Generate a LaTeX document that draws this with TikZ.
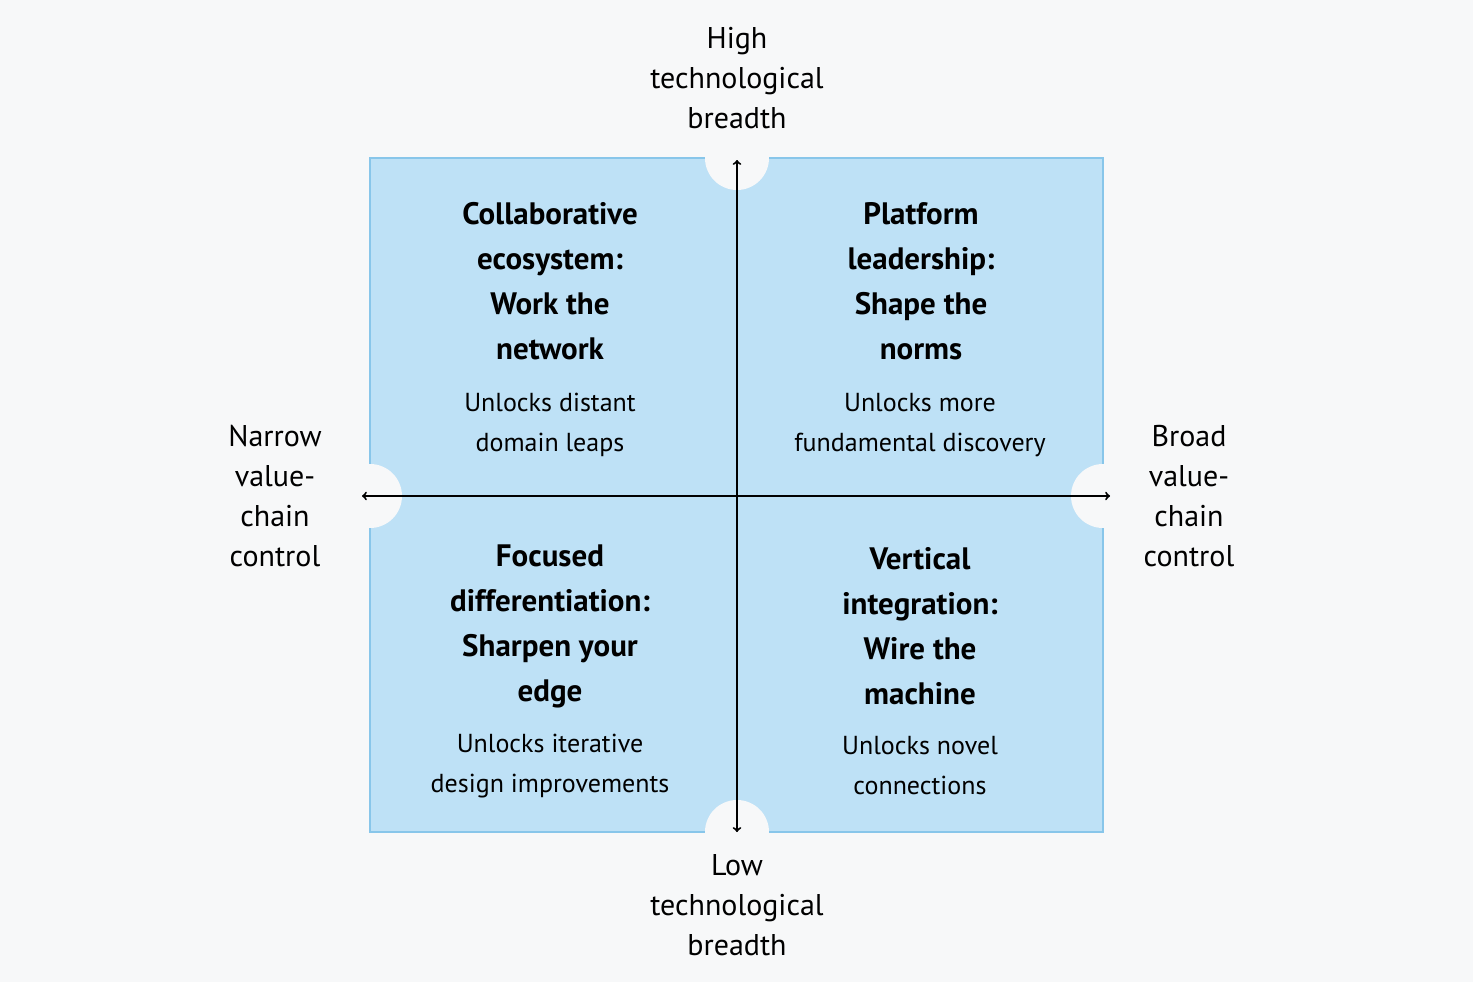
\documentclass[tikz,border=0pt]{standalone}
\usepackage{fontspec}
\setmainfont{PT Sans}
\usetikzlibrary{positioning}
\definecolor{pagebg}{HTML}{F7F8F9}
\definecolor{quadfill}{HTML}{BEE1F6}
\definecolor{quadline}{HTML}{88C6EA}

\begin{document}
\begin{tikzpicture}[x=1pt, y=-1pt,
    title/.style={align=center, font=\fontsize{31}{45}\selectfont\bfseries},
    note/.style={align=center, font=\fontsize{26}{40}\selectfont},
    axislabel/.style={align=center, font=\fontsize{30}{40}\selectfont},
    hole/.style={circle, fill=pagebg, minimum size=64pt, inner sep=0pt}]
    \fill[pagebg] (0,0) rectangle (1473,982);
    \draw[quadline, fill=quadfill, line width=2pt] (370,158) rectangle (1103,832);

    % holes at the axis ends
    \node[hole] (top) at (737,158) {};
    \node[hole] (bottom) at (737,832) {};
    \node[hole] (left) at (370,496) {};
    \node[hole] (right) at (1103,496) {};
    \coordinate (centre) at (737,496);
    \coordinate (topend) at (737,160);
    \coordinate (bottomend) at (737,832);
    \coordinate (leftend) at (362,496);
    \coordinate (rightend) at (1110,496);

    \draw[->, line width=2pt] (centre) -- (topend);
    \draw[->, line width=2pt] (centre) -- (bottomend);
    \draw[->, line width=2pt] (centre) -- (leftend);
    \draw[->, line width=2pt] (centre) -- (rightend);

    % quadrants
    \node[title] (collab) at (550,281) {Collaborative\\ecosystem:\\Work the\\network};
    \node[note] (collabnote) at (550,425) {Unlocks distant\\domain leaps};
    \node[title] (platform) at (921,281) {Platform\\leadership:\\Shape the\\norms};
    \node[note] (platformnote) at (920,425) {Unlocks more\\fundamental discovery};
    \node[title] (focused) at (550,626) {Focused\\differentiation:\\Sharpen your\\edge};
    \node[note] (focusednote) at (550,766) {Unlocks iterative\\design improvements};
    \node[title] (vertical) at (920,626) {Vertical\\integration:\\Wire the\\machine};
    \node[note] (verticalnote) at (920,766) {Unlocks novel\\connections};

    % axis labels
    \node[axislabel] (high) at (737,78) {High\\technological\\breadth};
    \node[axislabel] (low) at (737,905) {Low\\technological\\breadth};
    \node[axislabel] (narrow) at (275,496) {Narrow\\value-\\chain\\control};
    \node[axislabel] (broad) at (1189,496) {Broad\\value-\\chain\\control};
\end{tikzpicture}
\end{document}
